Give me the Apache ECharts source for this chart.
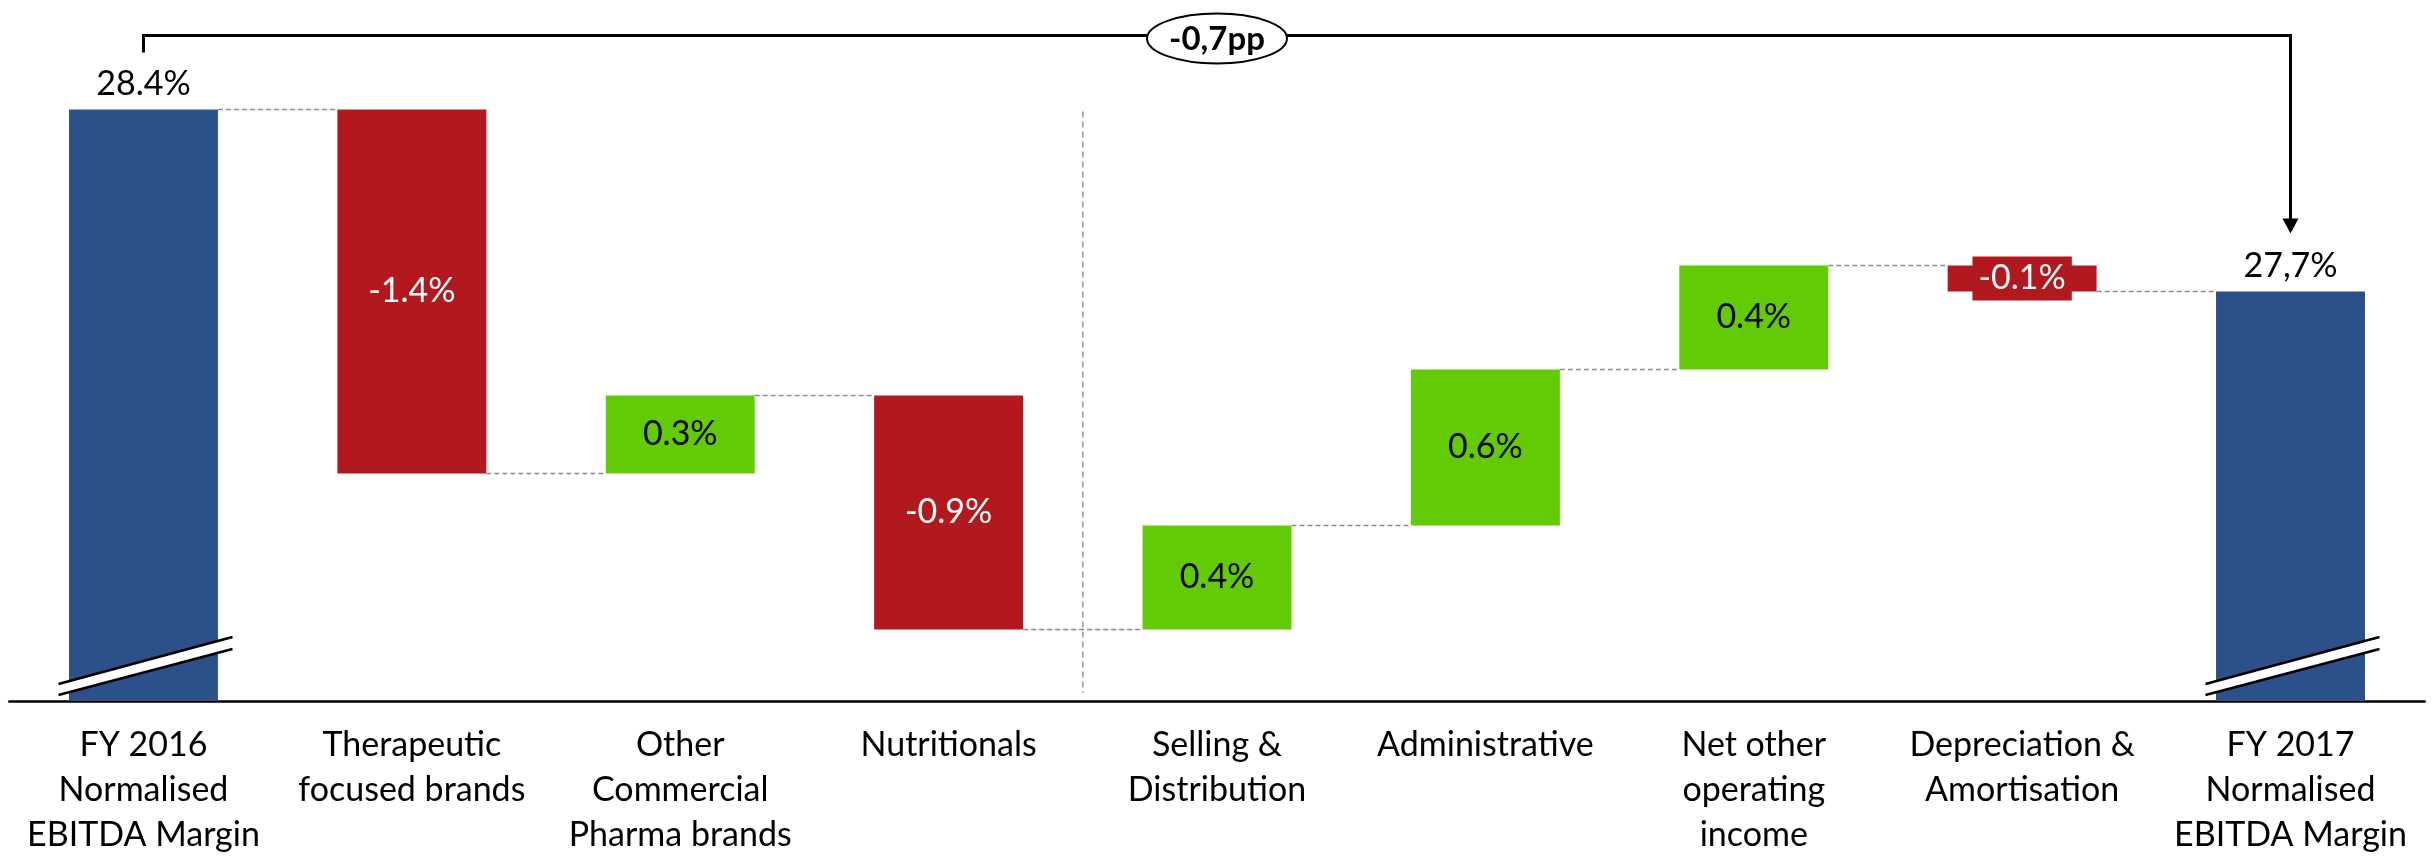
<!DOCTYPE html>
<html>
<head>
<meta charset="utf-8">
<script src="https://cdn.jsdelivr.net/npm/echarts@6/dist/echarts.min.js"></script>
<style>
  html, body { margin: 0; padding: 0; background: #ffffff; }
  #myChart { width: 2433px; height: 858px; }
</style>
</head>
<body>
<div id="myChart"></div>
<script>
// chart data
var categories = [
  'FY 2016\nNormalised\nEBITDA Margin',
  'Therapeutic\nfocused brands',
  'Other\nCommercial\nPharma brands',
  'Nutritionals',
  'Selling &\nDistribution',
  'Administrative',
  'Net other\noperating\nincome',
  'Depreciation &\nAmortisation',
  'FY 2017\nNormalised\nEBITDA Margin'
];
var startMargin = 28.4;
var endMargin = 27.7;
var changes = [-1.4, 0.3, -0.9, 0.4, 0.6, 0.4, -0.1];
var totalLabels = ['28.4%', '27,7%'];
var bracketLabel = '-0,7pp';

// broken axis: bottom of the blue bars is not zero
var yMin = 26.125, yMax = 28.8;

var BLUE = '#2c5089', RED = '#b2191f', GREEN = '#62cb06';
var FONT = 'Lato';
var FS = 34;
var barFrac = 0.555;

var myChart = echarts.init(document.getElementById('myChart'));

// build the waterfall stacks
var baseData = [], upData = [], downData = [], totalData = [], levels = [];
var level = startMargin;
baseData.push(yMin);
totalData.push({ value: startMargin - yMin, label: { formatter: totalLabels[0] } });
upData.push('-');
downData.push('-');
levels.push([0, level]);
changes.forEach(function (d, k) {
  var next = Math.round((level + d) * 10) / 10;
  var txt = d.toFixed(1) + '%';
  baseData.push(Math.min(level, next));
  totalData.push('-');
  if (d > 0) {
    upData.push({ value: d, label: { formatter: txt } });
    downData.push('-');
  } else {
    upData.push('-');
    var item = { value: -d, label: { formatter: txt } };
    // tiny bar: label sits in its own red box
    if (Math.abs(d) < 0.2) {
      item.label.backgroundColor = RED;
      item.label.padding = [5, 6];
      item.label.lineHeight = 34;
    }
    downData.push(item);
  }
  level = next;
  levels.push([k + 1, level]);
});
baseData.push(yMin);
totalData.push({ value: endMargin - yMin, label: { formatter: totalLabels[1] } });
upData.push('-');
downData.push('-');

var lastIdx = categories.length - 1;

var option = {
  animation: false,
  grid: { left: 9.3, right: 8.3, top: 5.5, bottom: 153 },
  xAxis: {
    type: 'category',
    data: categories,
    axisLine: { onZero: false, lineStyle: { color: '#000', width: 2.5 } },
    axisTick: { show: false },
    axisLabel: {
      interval: 0,
      margin: 22,
      color: '#000',
      fontFamily: FONT,
      fontSize: FS,
      lineHeight: 45
    }
  },
  yAxis: {
    type: 'value',
    min: yMin,
    max: yMax,
    show: false,
    splitLine: { show: false }
  },
  series: [
    {
      name: 'base',
      type: 'bar',
      stack: 'w',
      barWidth: (barFrac * 100) + '%',
      itemStyle: { color: 'transparent' },
      data: baseData
    },
    {
      name: 'total',
      type: 'bar',
      stack: 'w',
      itemStyle: { color: BLUE },
      label: {
        show: true,
        position: 'top',
        distance: 8,
        color: '#000',
        fontFamily: FONT,
        fontSize: FS
      },
      data: totalData
    },
    {
      name: 'up',
      type: 'bar',
      stack: 'w',
      itemStyle: { color: GREEN },
      label: {
        show: true,
        position: 'inside',
        color: '#000',
        fontFamily: FONT,
        fontSize: FS
      },
      data: upData
    },
    {
      name: 'down',
      type: 'bar',
      stack: 'w',
      itemStyle: { color: RED },
      label: {
        show: true,
        position: 'inside',
        color: '#fff',
        fontFamily: FONT,
        fontSize: FS
      },
      data: downData
    },
    {
      // dashed connectors between bars
      name: 'connectors',
      type: 'custom',
      clip: false,
      z: 1,
      renderItem: function (params, api) {
        var i = api.value(0);
        if (i >= lastIdx) return;
        var p = api.coord([i, api.value(1)]);
        var catW = api.size([1, 0])[0];
        var half = catW * barFrac / 2;
        return {
          type: 'line',
          shape: { x1: p[0] + half, y1: p[1], x2: p[0] + catW - half, y2: p[1] },
          style: { stroke: '#8a8a8a', lineWidth: 1.5, lineDash: [5, 3] }
        };
      },
      data: levels
    },
    {
      // vertical separator between sales and cost items
      name: 'separator',
      type: 'custom',
      clip: false,
      z: 1,
      renderItem: function (params, api) {
        var i = api.value(0);
        var catW = api.size([1, 0])[0];
        var top = api.coord([i, startMargin]);
        var bot = api.coord([i, yMin]);
        var x = top[0] + catW / 2;
        return {
          type: 'line',
          shape: { x1: x, y1: top[1] + 2, x2: x, y2: bot[1] - 8 },
          style: { stroke: '#9a9a9a', lineWidth: 1.5, lineDash: [6, 4] }
        };
      },
      data: [[3, startMargin]]
    },
    {
      // axis break marks on the total bars
      name: 'breaks',
      type: 'custom',
      clip: false,
      z: 5,
      renderItem: function (params, api) {
        var p = api.coord([api.value(0), yMin]);
        var cx = p[0], ay = p[1];
        var xl = cx - 85, xr = cx + 89;
        return {
          type: 'group',
          children: [
            {
              type: 'polygon',
              shape: { points: [[xl, ay - 17], [xr, ay - 64], [xr, ay - 52], [xl, ay - 6]] },
              style: { fill: '#fff' }
            },
            {
              type: 'line',
              shape: { x1: xl, y1: ay - 17, x2: xr, y2: ay - 64 },
              style: { stroke: '#000', lineWidth: 2.5 }
            },
            {
              type: 'line',
              shape: { x1: xl, y1: ay - 6, x2: xr, y2: ay - 52 },
              style: { stroke: '#000', lineWidth: 2.5 }
            }
          ]
        };
      },
      data: [[0, yMin], [lastIdx, yMin]]
    },
    {
      // bracket with the overall change
      name: 'bracket',
      type: 'custom',
      clip: false,
      z: 6,
      renderItem: function (params, api) {
        var p0 = api.coord([0, startMargin]);
        var p8 = api.coord([lastIdx, endMargin]);
        var yb = api.coord([0, yMax])[1] + 30;
        var tipY = p8[1] - 58;
        var midX = (p0[0] + p8[0]) / 2;
        return {
          type: 'group',
          children: [
            {
              type: 'polyline',
              shape: { points: [[p0[0], yb + 17], [p0[0], yb], [p8[0], yb], [p8[0], tipY - 14]] },
              style: { stroke: '#000', lineWidth: 3, fill: null }
            },
            {
              type: 'polygon',
              shape: { points: [[p8[0] - 8, tipY - 15], [p8[0] + 8, tipY - 15], [p8[0], tipY]] },
              style: { fill: '#000' }
            },
            {
              type: 'ellipse',
              shape: { cx: midX, cy: yb + 3, rx: 70, ry: 25 },
              style: { fill: '#fff', stroke: '#000', lineWidth: 2 }
            },
            {
              type: 'text',
              style: {
                text: bracketLabel,
                x: midX,
                y: yb + 4,
                align: 'center',
                verticalAlign: 'middle',
                fill: '#000',
                font: 'bold 33px ' + FONT
              }
            }
          ]
        };
      },
      data: [[0, startMargin]]
    }
  ]
};

option && myChart.setOption(option);
</script>
</body>
</html>
